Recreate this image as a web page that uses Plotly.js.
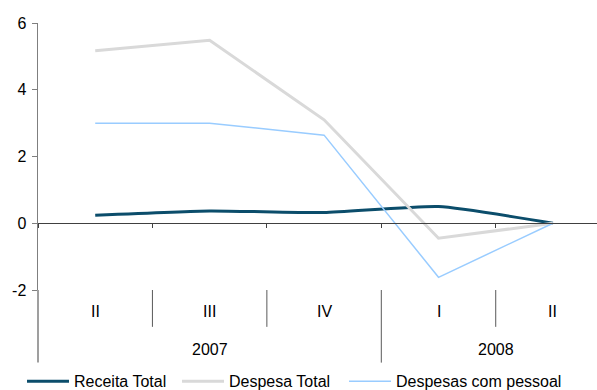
<!DOCTYPE html>
<html>
<head>
<meta charset="utf-8">
<script src="https://cdn.plot.ly/plotly-3.0.1.min.js"></script>
<style>html,body{margin:0;padding:0;background:#fff;}#chart{width:597px;height:390px;}</style>
</head>
<body>
<div id="chart"></div>
<script>
// Data
var years = ['2007', '2007', '2007', '2008', '2008'];
var quarters = ['II', 'III', 'IV', 'I', 'II'];
var receitaTotal = [0.24, 0.37, 0.32, 0.50, 0.0];
var despesaTotal = [5.17, 5.48, 3.10, -0.45, 0.0];
var despesasPessoal = [3.0, 3.0, 2.64, -1.62, 0.0];
var yTicks = [-2, 0, 2, 4, 6];

var cats = quarters.map(function (q, i) { return years[i] + ' ' + q; });

var FONT = 'Liberation Sans, Arial, sans-serif';
var FS = 16;

var traces = [
  {x: cats, y: receitaTotal, name: 'Receita Total', type: 'scatter', mode: 'lines', legend: 'legend',
   line: {color: '#0b4d6b', width: 3, shape: 'spline', smoothing: 0.5}},
  {x: cats, y: despesaTotal, name: 'Despesa Total', type: 'scatter', mode: 'lines', legend: 'legend2',
   line: {color: '#d9d9d9', width: 3}},
  {x: cats, y: despesasPessoal, name: 'Despesas com pessoal', type: 'scatter', mode: 'lines', legend: 'legend3',
   line: {color: '#99ccff', width: 1.5}}
];

// label-area geometry (paper units below the plot)
var shortSep = -0.138, longSep = -0.272;
var shapes = [
  {type: 'line', xref: 'paper', yref: 'paper', x0: 0, x1: 0, y0: 0, y1: longSep,
   line: {color: '#7f7f7f', width: 1.5}}
];
for (var i = 1; i < cats.length; i++) {
  var newYear = years[i] !== years[i - 1];
  shapes.push({type: 'line', xref: 'x', yref: 'paper', x0: i - 0.5, x1: i - 0.5,
    y0: 0, y1: newYear ? longSep : shortSep, line: {color: '#595959', width: 1}});
}

var annotations = [];
quarters.forEach(function (q, i) {
  annotations.push({x: i, y: -0.082, xref: 'x', yref: 'paper', text: q, showarrow: false,
    xanchor: 'center', yanchor: 'middle', font: {family: FONT, size: FS, color: '#000'}});
});
// year group labels centred on their groups
var groups = {};
years.forEach(function (y, i) {
  if (!groups[y]) groups[y] = {first: i, last: i};
  groups[y].last = i;
});
Object.keys(groups).forEach(function (y) {
  var g = groups[y];
  annotations.push({x: (g.first - 0.5 + g.last + 0.5) / 2, y: -0.224, xref: 'x', yref: 'paper',
    text: y, showarrow: false, xanchor: 'center', yanchor: 'middle',
    font: {family: FONT, size: FS, color: '#000'}});
});

function leg(x) {
  return {orientation: 'h', x: x, xanchor: 'left', y: -0.342, yanchor: 'middle',
    font: {family: FONT, size: FS, color: '#000'}, itemwidth: 42, bgcolor: 'rgba(0,0,0,0)'};
}

var layout = {
  width: 597, height: 390,
  margin: {l: 38, r: 0, t: 23, b: 100, pad: 0, autoexpand: false},
  paper_bgcolor: '#fff', plot_bgcolor: '#fff',
  font: {family: FONT, size: FS, color: '#000'},
  showlegend: true,
  legend: leg(-0.0286),
  legend2: leg(0.2487),
  legend3: leg(0.5474),
  xaxis: {type: 'category', range: [-0.5, 4.385], anchor: 'free', position: 0.25,
    showline: true, linecolor: '#404040', linewidth: 1, ticks: 'outside', tickson: 'boundaries',
    ticklen: 4, tickcolor: '#404040', showticklabels: false, showgrid: false, zeroline: false},
  yaxis: {range: [-2, 6], tickvals: yTicks, ticktext: yTicks.map(String), showline: true,
    linecolor: '#7f7f7f', linewidth: 1.5, ticks: 'outside', ticklen: 5, tickcolor: '#7f7f7f',
    ticklabelstandoff: 2,
    showgrid: false, zeroline: false, tickfont: {family: FONT, size: FS, color: '#000'}},
  shapes: shapes,
  annotations: annotations
};

Plotly.newPlot('chart', traces, layout, {displayModeBar: false, staticPlot: true});
</script>
</body>
</html>
